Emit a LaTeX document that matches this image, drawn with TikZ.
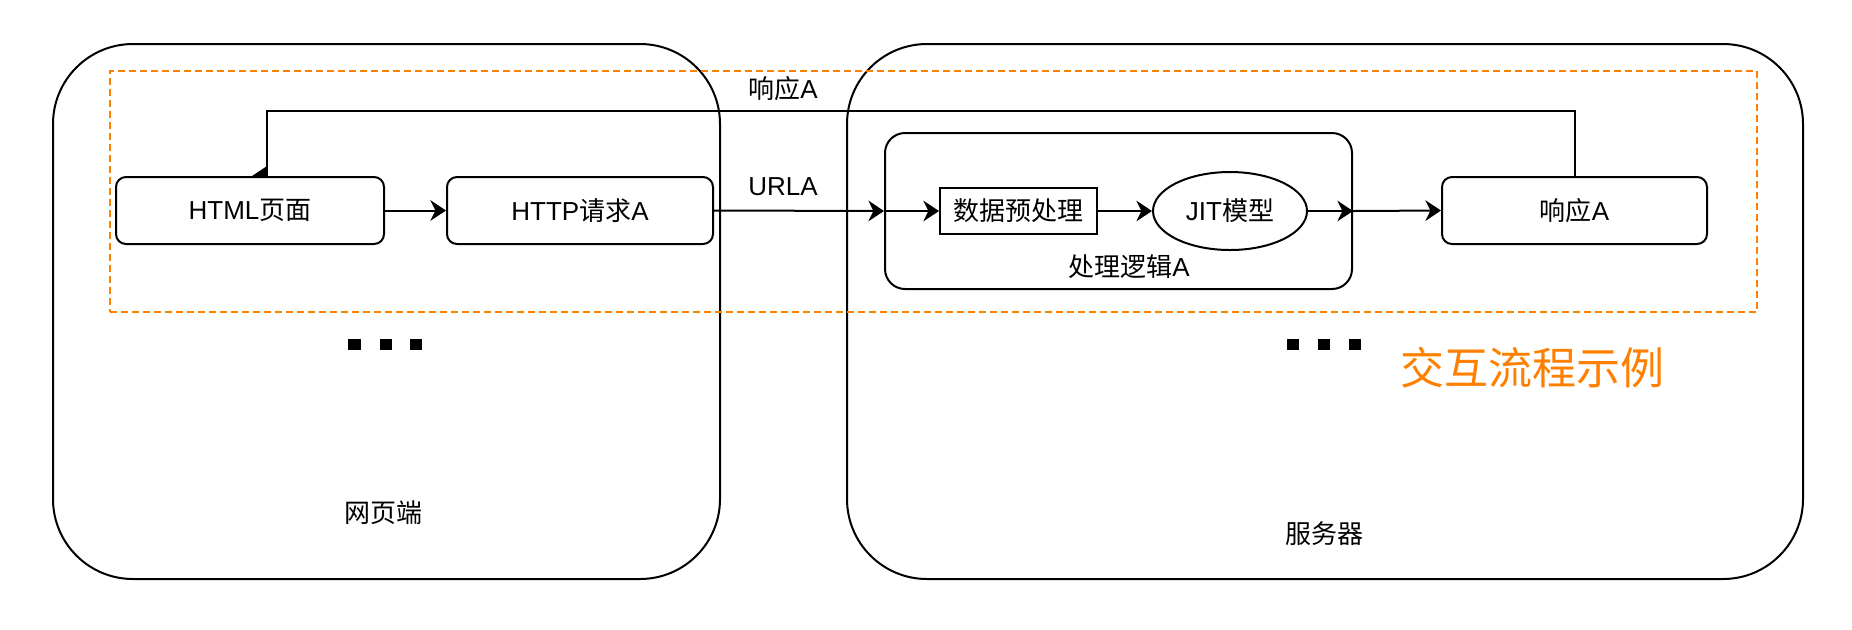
\documentclass[tikz,border=0pt]{standalone}
\usepackage{fontspec}
\setmainfont{Liberation Sans}
\newfontfamily\cjk{Noto Sans CJK SC}
\usetikzlibrary{arrows.meta,shapes.geometric,calc}
\definecolor{dioorange}{RGB}{255,128,0}
\newcommand\zh[1]{{\cjk #1}}
\begin{document}
\begin{tikzpicture}[x=0.5pt,y=-0.5pt,
  txt/.style={font=\fontsize{13}{15}\selectfont, inner sep=0pt},
  bigbox/.style={draw, line width=1pt, rounded corners=40pt, inner sep=0pt},
  rbox/.style={draw, line width=1pt, rounded corners=5pt, fill=white, inner sep=0pt, minimum height=33.5pt, font=\fontsize{13}{15}\selectfont},
  conn/.style={line width=1pt, -{Stealth[length=7.8pt,width=10.3pt,inset=2.5pt]}},
  plainconn/.style={line width=1pt},
  dotbar/.style={fill=black}
]
\useasboundingbox (0,0) rectangle (1852,629);
% big containers
\node[bigbox, minimum width=333.5pt, minimum height=267.5pt] (web) at (386.5,311.5) {};
\node[bigbox, minimum width=478pt, minimum height=267.5pt] (server) at (1325,311.5) {};
% dashed frame
\node[draw=dioorange, line width=1pt, dash pattern=on 3.5pt off 2pt, minimum width=823.5pt, minimum height=120.5pt, inner sep=0pt] (frame) at (933.5,191.5) {};
% processing container
\node[draw, line width=1pt, rounded corners=10pt, minimum width=233.5pt, minimum height=78pt, inner sep=0pt] (logic) at (1118.5,211) {};
\node[txt] (logiclbl) at (1129,267) {\zh{处理逻辑}A};
% boxes
\node[rbox, minimum width=134pt] (html) at (250,210.5) {HTML\zh{页面}};
\node[rbox, minimum width=133pt] (http) at (580,210.5) {HTTP\zh{请求}A};
\node[draw, line width=1pt, fill=white, minimum width=78.5pt, minimum height=23pt, inner sep=0pt, font=\fontsize{13}{15}\selectfont] (pre) at (1018.5,211) {\zh{数据预处理}};
\node[draw, ellipse, line width=1pt, fill=white, minimum width=77pt, minimum height=39pt, inner sep=0pt, font=\fontsize{13}{15}\selectfont] (jit) at (1230,211) {JIT\zh{模型}};
\node[rbox, minimum width=132.5pt] (resp) at (1574.5,210.5) {\zh{响应}A};
% labels
\node[txt] (urla) at (783,187) {URLA};
\node[txt] (resplbl) at (783,89) {\zh{响应}A};
\node[txt] (weblbl) at (383,513) {\zh{网页端}};
\node[txt] (srvlbl) at (1324,534) {\zh{服务器}};
\node[inner sep=0pt, text=dioorange, font=\cjk\fontsize{22}{26}\selectfont] (title) at (1532,368) {交互流程示例};
% dots
\fill[dotbar] (348,339) rectangle (361,350);
\fill[dotbar] (380,339) rectangle (392,350);
\fill[dotbar] (410,339) rectangle (422,350);
\fill[dotbar] (1287,339) rectangle (1299,350);
\fill[dotbar] (1318,339) rectangle (1330,350);
\fill[dotbar] (1349,339) rectangle (1361,350);
% connectors
\draw[conn] (html.east) -- (http.west);
\draw[conn] (http.east) -- (logic.west);
\draw[conn] (logic.west) -- (pre.west);
\draw[conn] (pre.east) -- (jit.west);
\draw[conn] (jit.east) -- (logic.east);
\draw[conn] (logic.east) -- (resp.west);
\coordinate (rturn) at (267,111);
\coordinate (rend) at (rturn |- html.north);
\draw[plainconn] (resp.north) |- (rturn) -- (rend);
\fill (rend) -- ++(-15,0) -- ++(15,-10) -- cycle;
\end{tikzpicture}
\end{document}
